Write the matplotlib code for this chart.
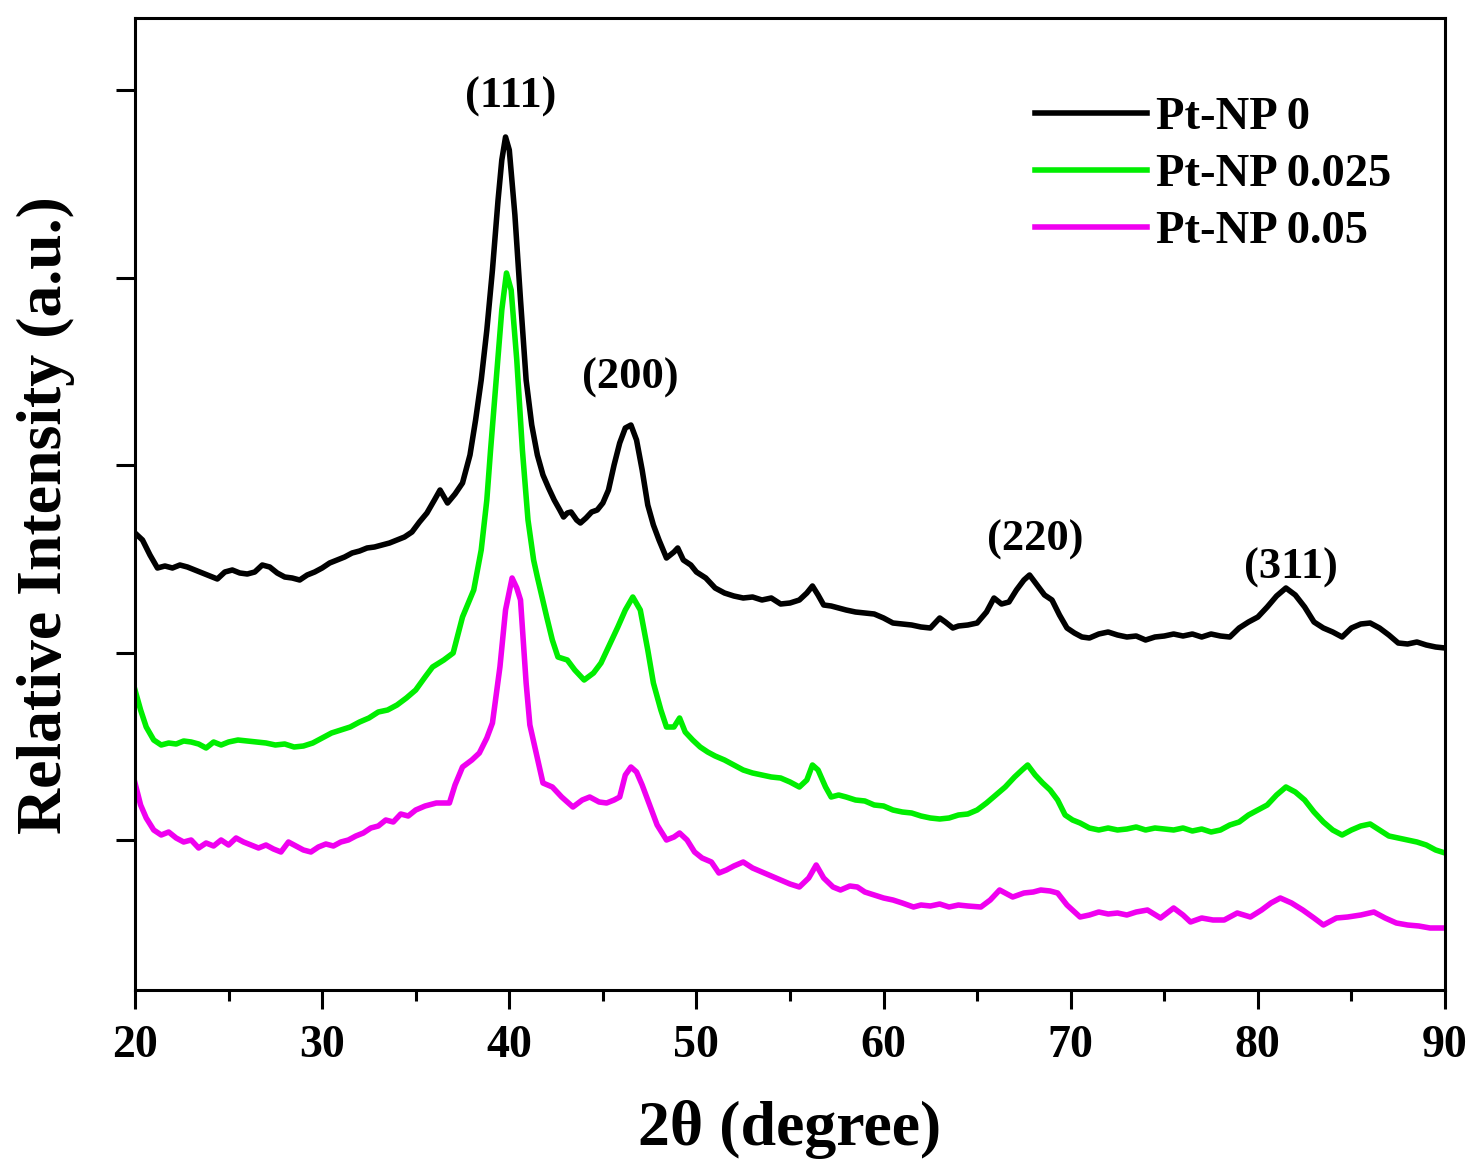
import matplotlib
matplotlib.use("Agg")
import matplotlib.pyplot as plt
import numpy as np

# ---------------- data (2theta in degree, relative intensity in a.u.) ----------------
x_np0 = [20.0, 20.4, 20.8, 21.2, 21.6, 22.0, 22.4, 22.8, 23.2, 23.6, 24.0, 24.4, 24.8, 25.2, 25.6,
         26.0, 26.4, 26.8, 27.2, 27.6, 28.0, 28.4, 28.8, 29.2, 29.6, 30.0, 30.4, 30.8, 31.2, 31.6,
         32.0, 32.4, 32.8, 33.2, 33.6, 34.0, 34.4, 34.8, 35.2, 35.6, 36.0, 36.3, 36.7, 37.1, 37.5,
         37.9, 38.2, 38.5, 38.8, 39.1, 39.4, 39.6, 39.8, 40.0, 40.3, 40.6, 40.9, 41.2, 41.5, 41.8,
         42.1, 42.4, 42.7, 42.9, 43.1, 43.3, 43.6, 43.8, 44.1, 44.4, 44.7, 45.0, 45.3, 45.6, 45.9,
         46.2, 46.5, 46.8, 47.1, 47.4, 47.7, 48.0, 48.4, 48.8, 49.0, 49.3, 49.7, 50.0, 50.5, 51.0,
         51.5, 52.0, 52.5, 53.0, 53.5, 54.0, 54.5, 55.0, 55.5, 55.9, 56.2, 56.5, 56.8, 57.2, 57.6,
         58.0, 58.5, 59.0, 59.5, 60.0, 60.5, 61.0, 61.5, 62.0, 62.5, 63.0, 63.3, 63.7, 64.0, 64.5,
         65.0, 65.5, 65.9, 66.3, 66.7, 67.1, 67.5, 67.8, 68.2, 68.6, 69.0, 69.4, 69.8, 70.2, 70.6,
         71.0, 71.5, 72.0, 72.5, 73.0, 73.5, 74.0, 74.5, 75.0, 75.5, 76.0, 76.5, 77.0, 77.5, 78.0,
         78.5, 79.0, 79.5, 80.0, 80.5, 81.0, 81.5, 82.0, 82.5, 83.0, 83.5, 84.0, 84.5, 85.0, 85.5,
         86.0, 86.5, 87.0, 87.5, 88.0, 88.5, 89.0, 89.5, 90.0]
y_np0 = [457, 450, 435, 422, 424, 422, 425, 423, 420, 417, 414, 411, 418, 420, 417,
         416, 418, 425, 423, 417, 413, 412, 410, 415, 418, 422, 427, 430, 433, 437,
         439, 442, 443, 445, 447, 450, 453, 458, 468, 477, 490, 500, 487, 496, 507,
         535, 570, 610, 660, 720, 790, 830, 853, 840, 775, 690, 610, 565, 535, 515,
         502, 490, 480, 473, 477, 478, 470, 467, 472, 478, 480, 487, 500, 525, 547,
         562, 565, 550, 520, 485, 465, 450, 432, 438, 442, 430, 425, 418, 412, 402,
         397, 394, 392, 393, 390, 392, 386, 387, 390, 397, 404, 395, 385, 384, 382,
         380, 378, 377, 376, 372, 367, 366, 365, 363, 362, 372, 368, 362, 364, 365,
         367, 378, 392, 386, 388, 400, 410, 415, 405, 395, 390, 375, 362, 357, 353,
         352, 356, 358, 355, 353, 354, 350, 353, 354, 356, 354, 356, 353, 356, 354,
         353, 362, 368, 373, 383, 394, 402, 395, 383, 368, 362, 358, 353, 362, 366,
         367, 362, 355, 347, 346, 348, 345, 343, 342]

x_np025 = [20.0, 20.3, 20.6, 21.0, 21.4, 21.8, 22.2, 22.6, 23.0, 23.4, 23.8, 24.2, 24.6, 25.0, 25.5,
           26.0, 26.5, 27.0, 27.5, 28.0, 28.5, 29.0, 29.5, 30.0, 30.5, 31.0, 31.5, 32.0, 32.5, 33.0,
           33.5, 34.0, 34.5, 35.0, 35.5, 35.9, 36.5, 37.0, 37.5, 38.1, 38.5, 38.8, 39.0, 39.3, 39.6,
           39.85, 40.1, 40.4, 40.7, 41.0, 41.3, 41.5, 42.0, 42.3, 42.6, 43.1, 43.5, 44.0, 44.5, 44.9,
           45.3, 45.8, 46.2, 46.6, 47.0, 47.4, 47.7, 48.1, 48.4, 48.8, 49.1, 49.4, 49.8, 50.2, 50.6,
           51.0, 51.5, 52.0, 52.5, 53.0, 53.5, 54.0, 54.5, 55.0, 55.5, 55.9, 56.2, 56.5, 56.9, 57.2,
           57.6, 58.0, 58.5, 59.0, 59.5, 60.0, 60.5, 61.0, 61.5, 62.0, 62.5, 63.0, 63.5, 64.0, 64.5,
           65.0, 65.5, 66.0, 66.5, 67.0, 67.4, 67.7, 68.1, 68.5, 68.9, 69.3, 69.7, 70.1, 70.5, 71.0,
           71.5, 72.0, 72.5, 73.0, 73.5, 74.0, 74.5, 75.0, 75.5, 76.0, 76.5, 77.0, 77.5, 78.0, 78.5,
           79.0, 79.5, 80.0, 80.5, 81.0, 81.5, 82.0, 82.5, 83.0, 83.5, 84.0, 84.5, 85.0, 85.5, 86.0,
           86.5, 87.0, 87.5, 88.0, 88.5, 89.0, 89.5, 90.0]
y_np025 = [300, 280, 263, 250, 245, 247, 246, 249, 248, 246, 242, 248, 245, 248, 250,
           249, 248, 247, 245, 246, 243, 244, 247, 252, 257, 260, 263, 268, 272, 278,
           280, 285, 292, 300, 313, 323, 330, 337, 373, 400, 440, 490, 540, 610, 680,
           717, 700, 630, 540, 470, 430, 413, 373, 350, 333, 330, 320, 310, 317, 327,
           343, 363, 380, 393, 380, 340, 307, 280, 263, 263, 272, 258, 250, 243, 238,
           234, 230, 225, 220, 217, 215, 213, 212, 208, 203, 210, 225, 220, 203, 193,
           195, 193, 190, 189, 185, 184, 180, 178, 177, 174, 172, 171, 172, 175, 176,
           180, 187, 195, 203, 213, 220, 225, 215, 207, 200, 190, 175, 170, 167, 162,
           160, 162, 160, 161, 163, 160, 162, 161, 160, 162, 159, 161, 158, 160, 165,
           168, 175, 180, 185, 195, 203, 198, 190, 178, 168, 160, 155, 160, 164, 166,
           160, 154, 152, 150, 148, 145, 140, 137]

x_np05 = [20.0, 20.3, 20.6, 21.0, 21.4, 21.8, 22.2, 22.6, 23.0, 23.4, 23.8, 24.2, 24.6, 25.0, 25.4,
          25.8, 26.2, 26.6, 27.0, 27.4, 27.8, 28.2, 28.6, 29.0, 29.4, 29.8, 30.2, 30.6, 31.0, 31.4,
          31.8, 32.2, 32.6, 33.0, 33.4, 33.8, 34.2, 34.6, 35.0, 35.5, 36.1, 36.8, 37.1, 37.5, 38.0,
          38.4, 38.8, 39.1, 39.5, 39.8, 40.15, 40.4, 40.6, 40.9, 41.1, 41.4, 41.8, 42.3, 42.8, 43.4,
          43.9, 44.3, 44.8, 45.2, 45.6, 45.9, 46.2, 46.5, 46.8, 47.1, 47.5, 47.9, 48.4, 48.8, 49.1,
          49.5, 49.9, 50.3, 50.8, 51.2, 51.6, 52.0, 52.5, 53.0, 53.5, 54.0, 54.5, 55.0, 55.5, 56.0,
          56.4, 56.8, 57.3, 57.7, 58.2, 58.6, 59.0, 59.5, 60.0, 60.5, 61.0, 61.6, 62.0, 62.5, 63.0,
          63.5, 64.0, 64.5, 65.2, 65.7, 66.2, 66.9, 67.5, 68.0, 68.4, 68.9, 69.3, 69.8, 70.5, 71.0,
          71.5, 72.0, 72.5, 73.0, 73.5, 74.1, 74.8, 75.5, 76.0, 76.4, 77.0, 77.6, 78.2, 78.9, 79.6,
          80.2, 80.7, 81.2, 81.8, 82.4, 83.0, 83.5, 84.2, 84.8, 85.5, 86.2, 86.8, 87.4, 88.0, 88.6,
          89.2, 90.0]
y_np05 = [207, 185, 172, 160, 155, 158, 152, 148, 150, 142, 147, 144, 150, 145, 152,
          148, 145, 142, 145, 141, 138, 148, 144, 140, 138, 143, 146, 144, 148, 150,
          154, 157, 162, 164, 170, 168, 176, 174, 180, 184, 187, 187, 205, 223, 230,
          237, 252, 267, 323, 380, 412, 402, 390, 307, 265, 240, 207, 203, 193, 183,
          190, 193, 188, 187, 190, 193, 215, 223, 218, 205, 185, 165, 150, 153, 157,
          150, 138, 132, 128, 117, 120, 124, 128, 122, 118, 114, 110, 106, 103, 112,
          125, 112, 103, 100, 104, 103, 98, 95, 92, 90, 87, 83, 85, 84, 86,
          83, 85, 84, 83, 90, 100, 93, 97, 98, 100, 99, 97, 85, 73, 75,
          78, 76, 77, 75, 78, 80, 72, 82, 75, 68, 72, 70, 70, 77, 73,
          80, 87, 92, 87, 80, 72, 65, 72, 73, 75, 78, 72, 67, 65, 64,
          62, 62]

labels = ["Pt-NP 0", "Pt-NP 0.025", "Pt-NP 0.05"]
colors = ["#000000", "#00EE00", "#F000F0"]

peak_labels = ["(111)", "(200)", "(220)", "(311)"]
peak_x = [40.05, 46.45, 68.1, 81.75]
peak_y = [893, 612, 450, 422]

xticks = [20, 30, 40, 50, 60, 70, 80, 90]
yticks = [150, 337.5, 525, 712.5, 900]

# ---------------- figure ----------------
plt.rcParams['font.family'] = ['Liberation Serif', 'DejaVu Serif']
plt.rcParams['font.weight'] = 'bold'

fig = plt.figure(figsize=(14.76, 11.63), dpi=100)
ax = fig.add_axes([135/1476, 1 - 990/1163, 1310/1476, 972/1163])

for xs, ys, lab, c in zip([x_np0, x_np025, x_np05], [y_np0, y_np025, y_np05], labels, colors):
    ax.plot(xs, ys, color=c, lw=4.0, label=lab, solid_joinstyle='round')

for t, px, py in zip(peak_labels, peak_x, peak_y):
    ax.text(px, py, t, ha='center', va='center', fontsize=32, fontweight='bold')

ax.set_xlim(20, 90)
ax.set_ylim(0, 972)
ax.set_xticks(xticks)
ax.set_xticks(np.arange(25, 90, 10), minor=True)
ax.set_yticks(yticks)
ax.set_yticklabels([])
ax.tick_params(axis='both', which='major', direction='out', length=14, width=2.2,
               labelsize=33, pad=11)
ax.tick_params(axis='x', which='minor', direction='out', length=8, width=2.2)
for lab in ax.get_xticklabels():
    lab.set_fontweight('bold')
for s in ax.spines.values():
    s.set_linewidth(2.2)

ax.set_xlabel("2θ (degree)", fontsize=46, fontweight='bold', labelpad=24)
ax.set_ylabel("Relative Intensity (a.u.)", fontsize=46, fontweight='bold')
ax.yaxis.set_label_coords(-0.046, 0.489)

leg = ax.legend(loc='upper left', bbox_to_anchor=(0.687, 0.919), frameon=False,
                handlelength=2.4, handletextpad=0.2, labelspacing=0.31,
                borderpad=0, borderaxespad=0, prop={'weight': 'bold', 'size': 33.5})

fig.savefig("out.png", dpi=100)
